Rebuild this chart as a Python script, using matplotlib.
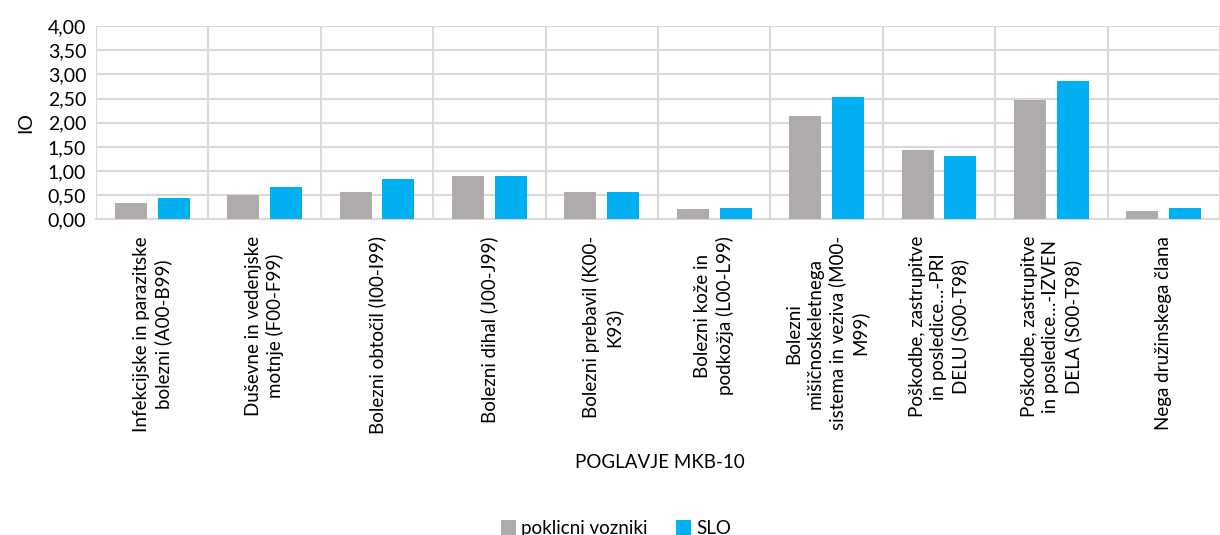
import numpy as np
import matplotlib.pyplot as plt
from matplotlib.ticker import FixedLocator, FuncFormatter

plt.rcParams['font.family'] = ['Lato', 'DejaVu Sans']

kategorije = [
    "Infekcijske in parazitske\nbolezni (A00-B99)",
    "Duševne in vedenjske\nmotnje (F00-F99)",
    "Bolezni obtočil (I00-I99)",
    "Bolezni dihal (J00-J99)",
    "Bolezni prebavil (K00-\nK93)",
    "Bolezni kože in\npodkožja (L00-L99)",
    "Bolezni\nmišičnoskeletnega\nsistema in veziva (M00-\nM99)",
    "Poškodbe, zastrupitve\nin posledice…-PRI\nDELU (S00-T98)",
    "Poškodbe, zastrupitve\nin posledice…-IZVEN\nDELA (S00-T98)",
    "Nega družinskega člana",
]
poklicni_vozniki = [0.34, 0.50, 0.56, 0.89, 0.56, 0.22, 2.15, 1.43, 2.48, 0.17]
slo = [0.44, 0.67, 0.83, 0.89, 0.56, 0.23, 2.53, 1.32, 2.86, 0.23]

siva = '#AFABAB'
modra = '#00B0F0'
mreza = '#D9D9D9'

fig = plt.figure(figsize=(12.2, 5.35), dpi=100)
fig.subplots_adjust(left=0.0787, right=1.0, bottom=0.590, top=0.951)
ax = fig.add_subplot(111)

x = np.arange(len(kategorije))
sirina = 0.285
ax.bar(x - 0.19, poklicni_vozniki, sirina, color=siva, label='poklicni vozniki', zorder=3)
ax.bar(x + 0.19, slo, sirina, color=modra, label='SLO', zorder=3)

ax.set_xlim(-0.5, len(kategorije) - 0.5)
ax.set_ylim(0, 4)
ax.set_yticks(np.arange(0, 4.01, 0.5))
ax.yaxis.set_major_formatter(FuncFormatter(lambda v, p: f"{v:.2f}".replace('.', ',')))
ax.tick_params(axis='y', length=0, labelsize=14, pad=7)

ax.set_xticks(x)
ax.set_xticklabels(kategorije, rotation=90, ha='center', va='top', multialignment='center',
                   fontsize=13.5, linespacing=1.3)
ax.tick_params(axis='x', length=0, pad=12)
ax.xaxis.set_minor_locator(FixedLocator(np.arange(-0.5, len(kategorije), 1)))
ax.tick_params(axis='x', which='minor', length=0)

ax.grid(axis='y', color=mreza, linewidth=1.5, zorder=0)
ax.grid(axis='x', which='minor', color=mreza, linewidth=1.5, zorder=0)
ax.grid(axis='x', which='major', visible=False)
for s in ['top', 'right', 'left']:
    ax.spines[s].set_visible(False)
ax.spines['bottom'].set_color(mreza)
ax.spines['bottom'].set_linewidth(1.5)

ax.set_ylabel('IO', fontsize=14, labelpad=10)
fig.text(0.541, 0.135, 'POGLAVJE MKB-10', ha='center', va='center', fontsize=13.5)

fig.legend(loc='center', bbox_to_anchor=(0.505, 0.012), ncol=2, frameon=False,
           fontsize=13.5, handlelength=0.8, handleheight=0.8, columnspacing=1.5, handletextpad=0.3)

fig.savefig('out.png', dpi=100)
